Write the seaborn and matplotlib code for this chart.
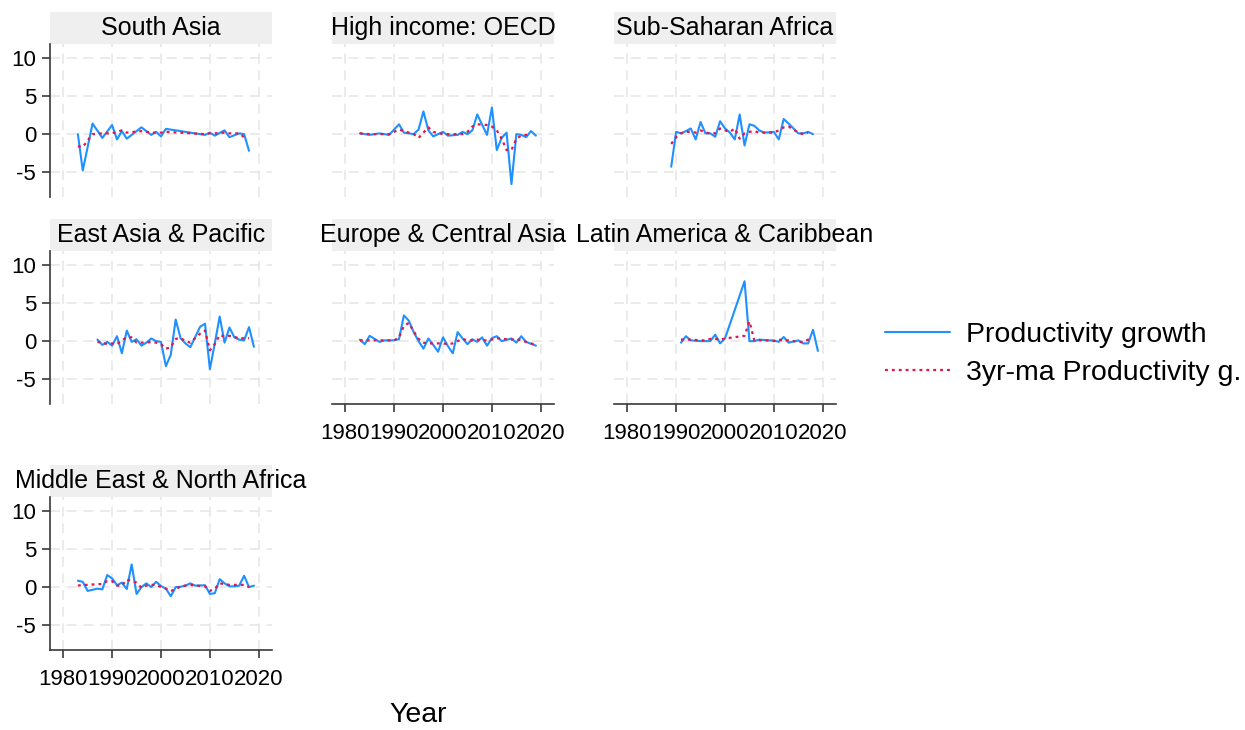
import matplotlib
matplotlib.use("Agg")
import matplotlib.pyplot as plt
from matplotlib.lines import Line2D
from matplotlib.patches import Rectangle
import seaborn as sns
import pandas as pd
import numpy as np

nan = np.nan

# South Asia
sa_years = [1983, 1984, 1986, 1988, 1990, 1991, 1992, 1993, 1996, 1998, 1999,
            2000, 2001, 2009, 2010, 2011, 2013, 2014, 2016, 2017, 2018]
sa_growth = [0.0, -4.8, 1.4, -0.5, 1.2, -0.7, 0.4, -0.6, 0.9, -0.1, 0.3,
             -0.3, 0.7, -0.1, 0.2, -0.2, 0.5, -0.4, 0.1, 0.0, -2.2]
sa_ma = [-1.6, -1.7, 0.0, 0.1, 0.1, 0.3, 0.5, 0.2, 0.4, 0.2, 0.2,
         0.2, 0.3, 0.0, 0.1, 0.1, 0.2, 0.1, 0.1, -0.4, nan]

# High income: OECD
hi_years = [1983, 1985, 1987, 1989, 1991, 1992, 1994, 1995, 1996, 1997, 1998,
            2000, 2001, 2003, 2004, 2005, 2006, 2007, 2009, 2010, 2011, 2012,
            2013, 2014, 2015, 2016, 2017, 2018, 2019]
hi_growth = [0.1, -0.1, 0.1, -0.1, 1.3, 0.2, 0.0, 0.6, 3.0, 0.5, -0.3,
             0.3, -0.2, -0.1, 0.3, 0.0, 0.5, 2.6, -0.1, 3.5, -2.1, -0.5,
             0.2, -6.6, 0.0, -0.1, -0.4, 0.4, -0.2]
hi_ma = [0.1, 0.0, 0.0, 0.0, 0.6, 0.4, 0.0, -0.5, 0.2, 0.9, 0.3,
         0.0, 0.0, 0.0, 0.0, 0.3, 1.0, 1.3, 1.2, 1.0, 0.5, -0.6,
         -2.1, -2.1, -0.6, -0.2, -0.1, 0.0, nan]

# Sub-Saharan Africa
ssa_years = [1989, 1990, 1991, 1992, 1993, 1994, 1995, 1996, 1997, 1998, 1999,
             2000, 2001, 2002, 2003, 2004, 2005, 2006, 2007, 2008, 2010, 2011,
             2012, 2013, 2015, 2016, 2017, 2018]
ssa_growth = [-4.3, 0.3, 0.1, 0.4, 0.75, -0.7, 1.6, 0.1, 0.1, -0.35, 1.7,
              0.75, 0.2, -0.7, 2.6, -1.5, 1.3, 1.1, 0.5, 0.2, 0.3, -0.7,
              2.0, 1.4, 0.1, 0.1, 0.3, 0.0]
ssa_ma = [-1.3, -0.4, 0.1, 0.3, 0.3, 0.2, 0.5, 0.2, 0.1, 0.1, 0.75,
          0.5, 0.3, 0.75, -0.6, 0.1, 0.3, 0.4, 0.2, 0.2, 0.2, 0.5,
          0.9, 1.0, 0.2, 0.0, 0.2, nan]

# East Asia & Pacific
eap_years = [1987, 1988, 1989, 1990, 1991, 1992, 1993, 1994, 1995, 1996, 1997,
             1998, 1999, 2000, 2001, 2002, 2003, 2004, 2005, 2006, 2008, 2009,
             2010, 2011, 2012, 2013, 2014, 2015, 2016, 2017, 2018, 2019]
eap_growth = [0.2, -0.5, -0.1, -0.6, 0.65, -1.6, 1.4, -0.1, 0.25, -0.6, -0.2,
              0.35, 0.0, -0.1, -3.3, -1.8, 2.85, 0.4, -0.3, -0.8, 1.9, 2.3,
              -3.7, -0.3, 3.25, -0.2, 1.8, 0.5, 0.2, 0.1, 1.85, -0.75]
eap_ma = [-0.1, -0.2, -0.4, -0.3, -0.4, 0.1, 0.5, 0.5, -0.2, -0.2, -0.2,
          -0.1, -0.2, -0.4, -1.0, -0.8, 0.3, 0.4, 0.0, -0.2, 1.0, 1.4,
          -1.2, -0.4, 0.8, 0.6, 0.7, 0.6, 0.3, 0.4, 0.4, nan]

# Europe & Central Asia
eca_years = [1983, 1984, 1985, 1987, 1988, 1990, 1991, 1992, 1993, 1994, 1995,
             1996, 1997, 1998, 1999, 2000, 2001, 2002, 2003, 2004, 2005, 2006,
             2007, 2008, 2009, 2010, 2011, 2012, 2014, 2015, 2016, 2017, 2019]
eca_growth = [0.2, -0.4, 0.7, -0.1, 0.1, 0.1, 0.25, 3.4, 2.7, 1.2, 0.0,
              -1.0, 0.35, -0.5, -1.4, 0.5, -0.65, -1.6, 1.2, 0.35, -0.4, 0.25,
              -0.1, 0.5, -0.6, 0.4, 0.65, 0.0, 0.35, -0.2, 0.65, -0.1, -0.6]
eca_ma = [0.1, 0.1, 0.1, 0.1, 0.1, 0.1, 0.5, 2.0, 2.4, 1.3, 0.3,
          -0.2, -0.3, -0.3, -0.3, -0.3, -0.4, -0.3, 0.0, 0.3, 0.1, 0.1,
          0.2, 0.1, 0.1, 0.2, 0.4, 0.3, 0.2, 0.3, 0.1, -0.1, -0.5]

# Latin America & Caribbean
lac_years = [1991, 1992, 1993, 1995, 1996, 1997, 1998, 1999, 2000, 2004, 2005,
             2006, 2007, 2009, 2010, 2011, 2012, 2013, 2015, 2016, 2017, 2018,
             2019]
lac_growth = [-0.2, 0.65, 0.1, 0.0, 0.0, 0.0, 0.85, -0.3, 0.35, 7.9, 0.0,
              0.0, 0.2, 0.1, 0.1, -0.1, 0.55, -0.2, 0.1, -0.3, -0.3, 1.5,
              -1.3]
lac_ma = [0.2, 0.2, 0.2, 0.1, 0.1, 0.3, 0.3, 0.2, 0.35, 0.7, 2.6,
          0.1, 0.1, 0.1, 0.0, 0.2, 0.1, 0.1, -0.1, -0.1, 0.2, 0.2,
          nan]

# Middle East & North Africa
mena_years = [1983, 1984, 1985, 1987, 1988, 1989, 1990, 1991, 1992, 1993, 1994,
              1995, 1996, 1997, 1998, 1999, 2000, 2001, 2002, 2003, 2004, 2005,
              2006, 2007, 2009, 2010, 2011, 2012, 2013, 2014, 2015, 2016, 2017,
              2018, 2019]
mena_growth = [0.85, 0.7, -0.5, -0.2, -0.3, 1.6, 1.15, 0.25, 0.6, -0.25, 3.0,
               -0.9, 0.0, 0.5, 0.0, 0.7, 0.15, -0.2, -1.2, 0.0, 0.05, 0.2,
               0.5, 0.2, 0.25, -0.9, -0.8, 1.05, 0.5, 0.1, 0.1, 0.2, 1.5,
               0.0, 0.2]
mena_ma = [0.2, 0.3, 0.3, 0.4, 0.4, 0.8, 0.8, 0.2, 0.2, 1.0, 0.8,
           0.6, -0.1, 0.2, 0.3, 0.3, 0.0, -0.2, -0.5, -0.3, 0.1, 0.2,
           0.3, 0.2, 0.1, -0.5, -0.2, 0.5, 0.4, 0.3, 0.3, 0.3, 0.3,
           0.0, nan]

regions = ["South Asia", "High income: OECD", "Sub-Saharan Africa",
           "East Asia & Pacific", "Europe & Central Asia",
           "Latin America & Caribbean", "Middle East & North Africa"]
series = [(sa_years, sa_growth, sa_ma), (hi_years, hi_growth, hi_ma),
          (ssa_years, ssa_growth, ssa_ma), (eap_years, eap_growth, eap_ma),
          (eca_years, eca_growth, eca_ma), (lac_years, lac_growth, lac_ma),
          (mena_years, mena_growth, mena_ma)]

df = pd.concat([
    pd.DataFrame({"region": r, "year": y, "growth": g, "ma": m})
    for r, (y, g, m) in zip(regions, series)
])

blue = "#1E90FF"
red = "#E3154D"

sns.set_style("white")
plt.rcParams["font.family"] = ["Liberation Sans", "DejaVu Sans"]
plt.rcParams["axes.unicode_minus"] = False
plt.rcParams["text.color"] = "black"

W, H = 1245, 730
fig = plt.figure(figsize=(W / 100, H / 100), dpi=100, facecolor="white")

col_left = [50, 332, 614]
row_top = [44, 251, 497]
aw, ah = 222, 153
strip_h = 32
bottom_panels = ["Europe & Central Asia", "Latin America & Caribbean",
                 "Middle East & North Africa"]

for i, name in enumerate(regions):
    r, c = divmod(i, 3)
    ax = fig.add_axes([col_left[c] / W, 1 - (row_top[r] + ah) / H, aw / W, ah / H])
    sub = df[df["region"] == name]
    sns.lineplot(data=sub.dropna(subset=["growth"]), x="year", y="growth",
                 ax=ax, color=blue, linewidth=1.5, errorbar=None)
    sns.lineplot(data=sub.dropna(subset=["ma"]), x="year", y="ma",
                 ax=ax, color=red, linewidth=1.6, errorbar=None,
                 linestyle=(0, (1.3, 1.8)))
    ax.set_xlim(1977.3, 2022.7)
    ax.set_ylim(-8.3, 11.9)
    ax.set_xticks([1980, 1990, 2000, 2010, 2020])
    ax.set_yticks([-5, 0, 5, 10])
    ax.set_axisbelow(True)
    ax.grid(True, color="#e8e8e8", linestyle=(0, (6, 4)), linewidth=1.2)
    ax.set_xlabel("")
    ax.set_ylabel("")
    for s in ax.spines.values():
        s.set_visible(False)
        s.set_color("#3a3a3a")
        s.set_linewidth(1.2)
    show_y = c == 0
    show_x = name in bottom_panels
    ax.spines["left"].set_visible(show_y)
    ax.spines["bottom"].set_visible(show_x)
    ax.tick_params(axis="y", left=show_y, labelleft=show_y, length=6,
                   width=1.2, color="#3a3a3a", labelsize=16, pad=4,
                   labelcolor="black")
    ax.tick_params(axis="x", bottom=show_x, labelbottom=show_x, length=6,
                   width=1.2, color="#3a3a3a", labelsize=16, pad=8,
                   labelcolor="black")
    ax.add_patch(Rectangle((0, 1), 1, strip_h / ah, transform=ax.transAxes,
                           facecolor="#efefef", edgecolor="none",
                           clip_on=False, zorder=0))
    ax.text(0.5, 1 + strip_h / ah / 2, name, transform=ax.transAxes,
            ha="center", va="center", fontsize=18, color="black")

fig.text(418 / W, 1 - 715 / H, "Year", ha="center", va="center",
         fontsize=20.5, color="black")

handles = [Line2D([], [], color=blue, linewidth=1.5),
           Line2D([], [], color=red, linewidth=1.6, linestyle=(0, (1.3, 1.8)))]
leg = fig.legend(handles, ["Productivity growth", "3yr-ma Productivity g."],
                 loc="center left", bbox_to_anchor=(885 / W, 1 - 354 / H),
                 frameon=False, fontsize=20.5, handlelength=2.3,
                 handletextpad=0.55, labelspacing=0.45, borderpad=0,
                 borderaxespad=0)
for t in leg.get_texts():
    t.set_color("black")

fig.savefig("out.png", dpi=100, facecolor="white")
